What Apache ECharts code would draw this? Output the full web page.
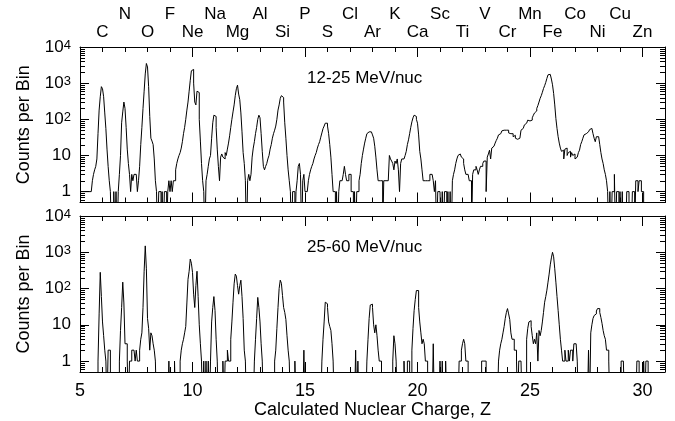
<!DOCTYPE html>
<html><head><meta charset="utf-8">
<script src="https://cdn.jsdelivr.net/npm/echarts@6/dist/echarts.min.js"></script>
<style>html,body{margin:0;padding:0;background:#fff}#c{width:675px;height:421px}</style>
</head><body><div id="c"></div>
<script>
// Histogram bins: Z from 5.00 in steps of 0.05 (20 bins per unit of Z), counts per bin
const Z_START = 5, BIN = 0.05, Z_END = 31;
const elements = ['C','N','O','F','Ne','Na','Mg','Al','Si','P','S','Cl','Ar','K','Ca','Sc','Ti','V','Cr','Mn','Fe','Co','Ni','Cu','Zn']; // Z = 6..30
const xTickLabels = [5,10,15,20,25,30];
const yTickLabels = [1,10,100,1000,10000];
const panelLabels = ['12-25 MeV/nuc','25-60 MeV/nuc'];

// 12-25 MeV/nuc
const countsLow = [
 1,1,1,1,1,1,1,1,1,1,1,2,3,4,5,8,40,180,420,800,               // 5
 700,420,150,55,15,5,2,1,0,0,1,0,1,0,1,3,10,80,160,300,        // 6
 200,60,15,6,3,1,3,2,3,3,3,1,2,5,20,60,200,600,1800,3500,      // 7
 2800,800,120,30,25,20,8,2,1,0,1,1,0,1,0,1,1,0,1,2,            // 8
 1,2,1,2,2,4,6,8,10,12,16,24,40,60,100,180,300,600,1200,2200,  // 9
 2400,1000,300,250,600,550,100,25,6,2,1,0,2,3,5,8,10,30,80,130,// 10
 120,60,15,5,2,9,11,9,8,12,10,15,22,35,60,100,160,250,450,700, // 11
 880,500,350,150,45,12,6,2,0,2,3,2,3,9,16,24,40,60,100,130,    // 12
 110,40,13,5,4,5,6,8,10,15,20,30,40,50,65,100,180,250,380,450, // 13
 400,300,80,30,10,4,2,1,0,1,1,0,1,2,5,6,3,0,2,3,               // 14
 1,1,1,2,3,4,5,6,8,10,12,16,20,24,32,42,55,65,78,78,           // 15
 65,40,20,9,3,1,1,0,1,0,1,2,2,2,3,5,3,2,2,3,                   // 16
 3,1,1,0,1,0,1,1,2,3,6,10,15,22,30,40,45,47,45,40,             // 17
 37,30,18,9,4,2,2,2,2,0,2,2,2,2,2,10,8,7,6,4,                  // 18
 7,6,8,4,1,6,8,8,8,10,13,20,27,40,60,85,110,130,120,100,       // 19
 78,37,13,8,4,2,2,2,2,2,2,3,3,3,2,1,2,0,1,1,                   // 20
 1,0,1,0,1,1,0,1,0,1,0,2,3,4,6,8,10,11,10,9,                   // 21
 8,6,4,3,3,3,2,2,0,3,4,4,5,4,3,4,5,5,6,7,                      // 22
 7,1,9,11,14,8,16,18,20,22,26,30,37,40,45,48,50,52,50,50,      // 23
 50,42,40,37,40,33,36,30,28,30,30,33,50,56,62,70,78,85,95,90,  // 24
 85,95,110,130,150,170,200,240,300,380,450,560,710,850,1050,1350,1700,1750,1600,1300, // 25
 900,520,250,105,56,33,22,16,13,14,8,15,16,10,12,13,9,12,10,11,// 26
 8,9,10,12,14,20,24,30,37,40,42,45,48,52,56,56,40,30,24,33,    // 27
 33,30,20,12,8,6,4,3,2,1,0,1,0,1,1,3,0,1,1,0,                  // 28
 1,0,1,0,0,0,1,1,0,0,0,1,1,0,2,2,1,2,2,1,                      // 29
 1,0,0,0,0,0,0,0,0,0,0,0,0,0,0,0,0,0,0,0                       // 30
];

// 25-60 MeV/nuc
const countsHigh = [
 0,0,0,0,0,0,0,0,0,0,0,0,0,0,0,0,1,20,280,60,                  // 5
 12,5,2,1,0,2,2,0,0,0,0,0,0,0,0,1,7,30,150,40,                 // 6
 3,3,1,0,1,1,2,2,2,1,2,1,1,2,4,6,30,300,1500,350,              // 7
 15,8,2,6,5,3,2,1,0,0,0,0,0,0,0,0,0,0,0,1,                     // 8
 0,0,0,0,1,0,0,0,0,1,2,3,4,6,9,40,180,300,650,500,             // 9
 280,70,30,120,300,60,10,3,1,0,1,0,1,0,1,0,1,12,30,60,         // 10
 25,4,1,0,0,0,0,1,0,1,1,2,1,1,4,12,42,135,250,220,             // 11
 120,70,120,170,60,15,2,1,0,0,0,0,0,0,0,1,4,15,57,30,          // 12
 12,3,1,0,0,0,0,0,0,0,0,0,0,1,2,8,30,100,170,140,              // 13
 64,30,22,14,5,2,1,0,0,0,0,1,0,0,0,0,0,0,0,2,                  // 14
 0,0,0,0,0,0,0,0,0,0,0,0,0,0,0,1,4,12,42,38,                   // 15
 30,12,9,7,3,1,0,0,0,0,0,0,0,0,0,0,0,0,0,0,                    // 16
 0,0,0,0,0,2,0,1,0,0,0,0,0,0,0,1,4,15,35,37,                   // 17
 30,10,6,10,5,2,1,1,0,0,0,0,0,0,0,0,0,0,1,5,                   // 18
 3,1,0,0,0,0,0,0,1,0,0,1,1,0,0,2,8,25,50,88,                   // 19
 88,30,12,6,3,4,3,1,1,0,0,0,0,0,3,0,0,0,0,0,                   // 20
 1,0,1,0,0,1,0,0,0,0,0,0,0,0,0,0,0,1,1,2,                      // 21
 3,4,3,1,1,0,0,0,0,0,0,0,0,0,0,0,0,1,1,1,                      // 22
 1,0,0,0,0,0,0,0,0,0,0,0,1,2,3,4,6,9,15,22,                    // 23
 28,20,14,6,4,4,2,2,1,0,1,1,1,0,0,0,0,4,8,12,                  // 24
 13,9,5,3,4,3,6,1,7,5,7,12,22,42,60,90,150,250,450,700,        // 25
 1000,750,350,150,60,25,10,4,2,1,1,2,1,1,2,1,2,2,1,3,          // 26
 3,3,1,0,0,0,0,0,0,0,0,0,2,0,6,10,15,18,20,24,                 // 27
 28,28,22,16,11,7,5,4,2,2,1,0,0,0,0,0,0,0,0,0,                 // 28
 0,1,1,1,0,0,0,0,0,0,0,0,0,0,0,1,1,0,0,0,                      // 29
 0,1,0,1,1,0,0,0,0,0,0,0,0,0,0,0,0,0,0,0                       // 30
];

const FONT = '"Liberation Sans", Arial, Helvetica, sans-serif';
const BLACK = '#000';

function histData(counts){
  const d = counts.map((c,i)=>[+(Z_START + i*BIN).toFixed(2), c > 0 ? c : 0.05]);
  d.push([Z_END, d[d.length-1][1]]);
  return d;
}
// minor log tick values (2..9 per decade)
const minorVals = [];
for (let e=-1;e<=3;e++) for (let m=2;m<=9;m++){ const v=m*Math.pow(10,e); if (v>0.5 && v<10000) minorVals.push([Z_START, v]); }

function yLab(v){
  const e = Math.round(Math.log10(v));
  if (Math.abs(v - Math.pow(10,e)) > 1e-6*v) return '';
  if (yTickLabels.indexOf(Math.pow(10,e)) < 0) return '';
  if (e===0) return '1';
  if (e===1) return '10';
  return '10{s|'+e+'}';
}

const grids = [
  {left:80, top:47, width:585, height:155.5},
  {left:80, top:216, width:585, height:156}
];

function frameX(gi, pos, extra){
  return Object.assign({
    type:'value', gridIndex:gi, position:pos, min:Z_START, max:Z_END, interval:5,
    axisLine:{show:true, onZero:false, lineStyle:{color:BLACK, width:1}},
    axisTick:{show:true, inside:true, length:10, lineStyle:{color:BLACK, width:1}},
    minorTick:{show:true, splitNumber:5, length:5, lineStyle:{color:BLACK, width:1}},
    axisLabel:{show:false}, splitLine:{show:false}
  }, extra||{});
}
function elemX(gi, parity, offset){
  return {
    type:'value', gridIndex:gi, position:'top', offset:offset, min:Z_START, max:Z_END, interval:1,
    axisLine:{show:false}, axisTick:{show:false}, splitLine:{show:false},
    axisLabel:{show:true, margin:6, color:BLACK, fontFamily:FONT, fontSize:17,
      formatter:function(v){ const z=Math.round(v); if (z<6||z>30||z%2!==parity) return ''; return elements[z-6]; }}
  };
}
function frameY(gi, pos, labels){
  return {
    type:'log', logBase:10, gridIndex:gi, position:pos, min:0.5, max:10000,
    axisLine:{show:true, onZero:false, lineStyle:{color:BLACK, width:1}},
    axisTick:{show:true, inside:true, length:9, lineStyle:{color:BLACK, width:1}},
    splitLine:{show:false}, minorTick:{show:false},
    name: labels ? 'Counts per Bin' : '', nameLocation:'middle', nameGap:47,
    nameTextStyle:{color:BLACK, fontFamily:FONT, fontSize:18},
    axisLabel:{show:!!labels, margin:9, color:BLACK, fontFamily:FONT, fontSize:17, formatter:yLab,
      showMinLabel:true, showMaxLabel:true,
      rich:{s:{fontSize:13, fontFamily:FONT, color:BLACK, verticalAlign:'top', lineHeight:13}}}
  };
}

const xAxes = [
  frameX(0,'bottom'),
  frameX(0,'top'),
  elemX(0,0,0),
  elemX(0,1,18),
  frameX(1,'bottom',{axisLabel:{show:true, margin:10, color:BLACK, fontFamily:FONT, fontSize:18,
      formatter:function(v){ return xTickLabels.indexOf(Math.round(v))>=0 && Math.abs(v-Math.round(v))<1e-9 ? String(Math.round(v)) : ''; }},
    name:'Calculated Nuclear Charge, Z', nameLocation:'middle', nameGap:28,
    nameTextStyle:{color:BLACK, fontFamily:FONT, fontSize:18}}),
  frameX(1,'top')
];
const yAxes = [frameY(0,'left',true), frameY(0,'right',false), frameY(1,'left',true), frameY(1,'right',false)];

function minorSeries(xi, yi){
  return {
    type:'custom', xAxisIndex:xi, yAxisIndex:yi, data:minorVals, silent:true, clip:false,
    renderItem:function(params, api){
      const v = api.value(1);
      const pL = api.coord([Z_START, v]);
      const pR = api.coord([Z_END, v]);
      const y = Math.round(pL[1]) + 0.5;
      return {type:'group', children:[
        {type:'line', shape:{x1:pL[0], y1:y, x2:pL[0]+5, y2:y}, style:{stroke:BLACK, lineWidth:1}},
        {type:'line', shape:{x1:pR[0]-5, y1:y, x2:pR[0], y2:y}, style:{stroke:BLACK, lineWidth:1}}
      ]};
    }
  };
}
function histSeries(xi, yi, counts){
  return {type:'line', xAxisIndex:xi, yAxisIndex:yi, step:'end', data:histData(counts),
    symbol:'none', clip:true, silent:true, animation:false,
    lineStyle:{color:BLACK, width:1}};
}

const chart = echarts.init(document.getElementById('c'), null, {renderer:'canvas'});
chart.setOption({
  animation:false,
  backgroundColor:'#fff',
  grid:grids,
  xAxis:xAxes,
  yAxis:yAxes,
  graphic:[
    {type:'text', left:307, top:70, style:{text:panelLabels[0], fill:BLACK, font:'17px '+FONT}},
    {type:'text', left:307, top:239, style:{text:panelLabels[1], fill:BLACK, font:'17px '+FONT}}
  ],
  series:[
    histSeries(0,0,countsLow),
    histSeries(4,2,countsHigh),
    minorSeries(0,0),
    minorSeries(4,2)
  ]
});
</script></body></html>
